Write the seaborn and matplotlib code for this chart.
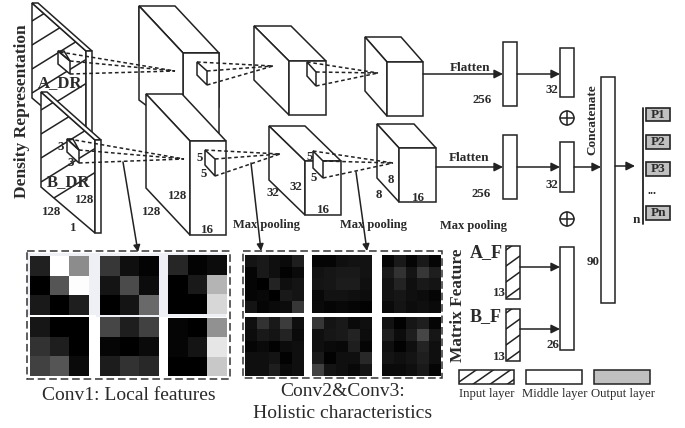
import numpy as np
import matplotlib
matplotlib.use('Agg')
import matplotlib.pyplot as plt
from matplotlib.patches import Polygon, Rectangle, Circle
import seaborn as sns

W, H = 685, 428

# filter responses, grey level 0-255
conv1_maps = [
    [[32, 255, 140], [0, 85, 253], [25, 0, 30]],
    [[55, 15, 3], [20, 75, 12], [0, 20, 105]],
    [[38, 3, 12], [0, 25, 180], [0, 0, 215]],
    [[22, 0, 0], [50, 30, 0], [65, 85, 10]],
    [[70, 30, 65], [5, 0, 10], [28, 50, 40]],
    [[5, 0, 145], [5, 20, 230], [0, 0, 200]],
]
conv23_maps = [
    [[20, 25, 15, 10, 30], [5, 25, 15, 2, 10], [5, 0, 35, 15, 20], [5, 8, 0, 25, 20], [20, 5, 10, 12, 55]],
    [[5, 5, 15, 18, 18], [18, 22, 25, 25, 18], [20, 22, 28, 28, 15], [8, 18, 18, 15, 12], [10, 5, 8, 5, 2]],
    [[5, 25, 5, 25, 5], [25, 50, 20, 55, 30], [18, 35, 15, 25, 20], [18, 22, 15, 12, 5], [10, 20, 12, 15, 10]],
    [[15, 50, 25, 60, 15], [12, 25, 20, 35, 10], [5, 10, 2, 12, 15], [15, 15, 20, 2, 15], [15, 15, 30, 10, 15]],
    [[55, 20, 25, 10, 15], [15, 22, 25, 35, 12], [15, 10, 8, 30, 5], [25, 2, 15, 15, 40], [65, 20, 15, 8, 20]],
    [[18, 2, 22, 30, 5], [30, 12, 30, 70, 22], [15, 2, 15, 35, 15], [20, 15, 20, 30, 15], [10, 10, 15, 25, 5]],
]
output_labels = ['P1', 'P2', 'P3', 'Pn']
legend_labels = ['Input layer', 'Middle layer', 'Output layer']

sns.set_theme(style='white')
plt.rcParams['font.family'] = ['Liberation Serif', 'DejaVu Serif']

INK = '#222222'
LW = 1.1

fig = plt.figure(figsize=(W / 100, H / 100), dpi=100)
ax = fig.add_axes([0, 0, 1, 1])
ax.set_xlim(0, W)
ax.set_ylim(H, 0)
ax.axis('off')


def poly(pts, fc='white', z=2, lw=LW):
    p = Polygon(pts, closed=True, fc=fc, ec=INK, lw=lw, zorder=z, joinstyle='miter')
    ax.add_patch(p)
    return p


def box(x0, y0, x1, y1, fc='white', z=3, lw=LW):
    return poly([(x0, y0), (x1, y0), (x1, y1), (x0, y1)], fc=fc, z=z, lw=lw)


def hatch(patch, x0, x1, y0, y1, step, slope, z):
    # diagonal lines cut off at the patch outline
    for c in np.arange(y0, y1 + (x1 - x0) * abs(slope), step):
        ln, = ax.plot([x0, x1], [c, c + slope * (x1 - x0)], color=INK, lw=LW, zorder=z)
        ln.set_clip_path(patch)


def block(back_tl, front_tl, w, h, z=2):
    # 3D box: back corner, front corner, front width and height
    bx, by = back_tl
    fx, fy = front_tl
    poly([(bx, by), (bx + w, by), (fx + w, fy), (fx, fy)], z=z)
    poly([(bx, by), (fx, fy), (fx, fy + h), (bx, by + h)], z=z)
    poly([(fx, fy), (fx + w, fy), (fx + w, fy + h), (fx, fy + h)], z=z)


def dashes(pts, tip, z=7):
    for x, y in pts:
        ax.plot([x, tip[0]], [y, tip[1]], color=INK, lw=LW, ls=(0, (2.4, 1.8)), zorder=z)


def arrow(x0, y0, x1, y1, z=6, ms=13):
    ax.annotate('', xy=(x1, y1), xytext=(x0, y0), zorder=z,
                arrowprops=dict(arrowstyle='-|>', color=INK, lw=LW, mutation_scale=ms,
                                shrinkA=0, shrinkB=0))


def label(x, y, s, size=9.3, weight='bold', rot=0, color='#2a2a2a'):
    ax.text(x, y, s, fontsize=size, fontweight=weight, rotation=rot, color=color,
            ha='center', va='center', zorder=9)


# density slabs
for left, top, bottom in [(32, 3, 98), (41, 92, 187)]:
    dx = left
    dy = top
    face = poly([(dx, dy), (dx + 54, dy + 48), (dx + 54, dy + 141), (dx, bottom)], z=2 if left == 32 else 4)
    hatch(face, dx, dx + 54, dy - 30, bottom, 24, -0.62, 2.5 if left == 32 else 4.5)
    z = 3 if left == 32 else 5
    poly([(dx, dy), (dx + 6, dy), (dx + 60, dy + 48), (dx + 54, dy + 48)], z=z)
    poly([(dx + 54, dy + 48), (dx + 60, dy + 48), (dx + 60, dy + 141), (dx + 54, dy + 141)], z=z)

# small 3x3 kernels on the slabs
poly([(58, 51), (70, 61), (70, 74), (58, 64)], z=6)
poly([(58, 51), (64, 51), (70, 61)], fc='none', z=6)
poly([(67, 139), (79, 150), (79, 163), (67, 152)], z=6)
poly([(67, 139), (73, 139), (79, 150)], fc='none', z=6)

# conv blocks, back row first
block((139, 6), (183, 53), 36, 54, z=2)
poly([(183, 53), (219, 53), (219, 133), (183, 133)], z=2)
poly([(139, 6), (183, 53), (183, 133), (139, 100)], z=2)
block((146, 94), (190, 141), 36, 94, z=3)
block((254, 26), (289, 61), 37, 54, z=2)
block((269, 126), (305, 161), 36, 54, z=2)
block((365, 37), (387, 62), 36, 54, z=2)
block((377, 124), (399, 148), 37, 54, z=2)

# kernel windows
for pts in [[(197, 62), (207, 71), (207, 85), (197, 75)],
            [(205, 150), (215, 159), (215, 176), (205, 165)],
            [(307, 62), (316, 72), (316, 86), (307, 76)],
            [(313, 151), (323, 161), (323, 178), (313, 168)]]:
    poly(pts, z=6)

dashes([(60, 52), (70, 61), (70, 74)], (175, 71))
dashes([(69, 139), (79, 150), (79, 163)], (184, 159))
dashes([(197, 62), (207, 71), (207, 85)], (273, 66))
dashes([(205, 150), (215, 159), (215, 176)], (280, 154))
dashes([(307, 62), (316, 72), (316, 86)], (378, 73))
dashes([(313, 151), (323, 161), (323, 178)], (393, 163))

# dense layers
box(503, 42, 517, 106)
box(560, 48, 574, 97)
box(503, 135, 517, 199)
box(560, 142, 574, 192)
box(560, 247, 574, 350)
box(601, 77, 615, 303)

arrow(423, 74, 503, 74)
arrow(517, 74, 560, 74)
arrow(436, 167, 503, 167)
arrow(517, 167, 560, 167)
arrow(574, 167, 601, 167)
arrow(615, 166, 635, 166)
arrow(520, 267, 560, 267)
arrow(520, 329, 560, 329)

# matrix feature inputs
for y0, y1 in [(246, 299), (309, 361)]:
    r = box(506, y0, 520, y1)
    hatch(r, 506, 520, y0 - 12, y1, 16, -0.72, 3.5)

# sum symbols
for y in [118, 219]:
    ax.add_patch(Circle((567, y), 7, fc='white', ec=INK, lw=LW, zorder=3))
    ax.plot([560, 574], [y, y], color=INK, lw=LW, zorder=4)
    ax.plot([567, 567], [y - 7, y + 7], color=INK, lw=LW, zorder=4)

# output
ax.plot([643, 643], [108, 224], color=INK, lw=1.3, zorder=3)
for name, (y0, y1) in zip(output_labels, [(108, 121), (135, 149), (162, 176), (206, 220)]):
    box(646, y0, 670, y1, fc='#c0c0c0', lw=1.2)
    label(658, (y0 + y1) / 2, name, size=9.5)
label(652, 191, '...', size=9)
label(636, 220, 'n', size=9.5)

# legend
r = box(459, 370, 514, 384)
hatch(r, 459, 514, 346, 384, 12, -0.7, 3.5)
box(526, 370, 582, 384)
box(594, 370, 650, 384, fc='#c0c0c0')
for x, s in zip([487, 555, 623], legend_labels):
    label(x, 394, s, size=9.2, weight='normal')

# leader arrows to the feature maps
arrow(123, 162, 138, 252, ms=10)
arrow(251, 163, 261, 251, ms=10)
arrow(356, 172, 367, 251, ms=10)

# feature map frames
ax.add_patch(Rectangle((27, 253), 113, 62, fc='#eef0f5', ec='none', zorder=1))
ax.add_patch(Rectangle((96, 253), 130, 64, fc='#eef0f5', ec='none', zorder=1))
for x0, y0, x1, y1 in [(27, 251, 230, 379), (243, 251, 442, 378)]:
    ax.add_patch(Rectangle((x0, y0), x1 - x0, y1 - y0, fc='none', ec='#333333', lw=1.1,
                           ls=(0, (5, 2.5)), zorder=8))


def draw_map(values, x0, y0, x1, y1):
    hax = fig.add_axes([x0 / W, 1 - y1 / H, (x1 - x0) / W, (y1 - y0) / H])
    sns.heatmap(np.array(values), ax=hax, cmap='gray', vmin=0, vmax=255, cbar=False,
                xticklabels=False, yticklabels=False, square=False)


conv1_cells = [(30, 256, 89, 315), (100, 256, 159, 315), (168, 255, 227, 314),
               (30, 317, 89, 376), (100, 317, 159, 376), (168, 318, 227, 376)]
conv23_cells = [(245, 255, 304, 313), (312, 255, 372, 313), (382, 255, 441, 313),
                (245, 317, 304, 376), (312, 317, 372, 376), (382, 317, 441, 376)]
for vals, cell in zip(conv1_maps, conv1_cells):
    draw_map(vals, *cell)
for vals, cell in zip(conv23_maps, conv23_cells):
    draw_map(vals, *cell)

# text
label(22, 111, 'Density Representation', size=12.5, rot=90)
label(458, 305, 'Matrix Feature', size=12.4, rot=90)
label(60, 83, 'A_DR', size=12)
label(69, 182, 'B_DR', size=12)
label(486, 253, 'A_F', size=13)
label(486, 317, 'B_F', size=13)
label(592, 120, 'Concatenate', size=9.5, rot=90)

for x, y, s in [(61, 147, '3'), (71, 163, '3'), (52, 212, '128'), (85, 200, '128'), (73, 228, '1'),
                (200, 158, '5'), (204, 174, '5'), (178, 196, '128'), (152, 212, '128'), (207, 230, '16'),
                (310, 157, '5'), (314, 178, '5'), (296, 187, '32'), (273, 193, '32'), (323, 210, '16'),
                (391, 180, '8'), (379, 195, '8'), (418, 198, '16'),
                (482, 100, '256'), (481, 194, '256'), (552, 90, '32'), (552, 185, '32'),
                (499, 293, '13'), (499, 357, '13'), (553, 345, '26'), (593, 262, '90')]:
    label(x, y, s)

for x, y in [(267, 225), (374, 225), (474, 226)]:
    label(x, y, 'Max pooling', size=9)
label(470, 68, 'Flatten', size=9.5)
label(469, 158, 'Flatten', size=9.5)

label(129, 395, 'Conv1: Local features', size=14, weight='normal')
label(343, 391, 'Conv2&Conv3:', size=14, weight='normal')
label(343, 413, 'Holistic characteristics', size=14, weight='normal')

fig.savefig('out.png', dpi=100)
